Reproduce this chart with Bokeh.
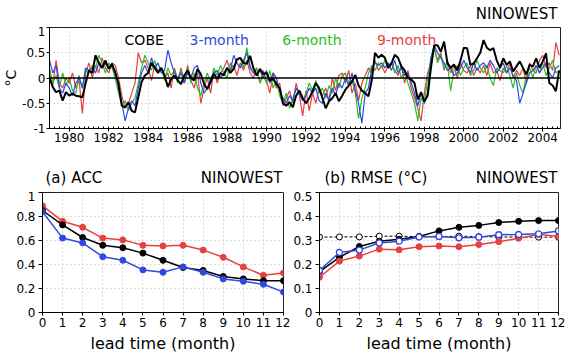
from bokeh.plotting import figure
from bokeh.models import FixedTicker, CustomJSTickFormatter, Span, Range1d
from bokeh.core.properties import value
from bokeh.layouts import column, row
from bokeh.embed import file_html
from bokeh.resources import INLINE

FONT = "DejaVu Sans"

# ---------------- data: top panel (bi-monthly samples, starting Jan 1979) -------------
start_year = 1979
steps_per_year = 6
cobe = [
    0.0, -0.18, -0.28, -0.25, -0.45, -0.28,
    -0.35, -0.31, -0.35, -0.36, -0.38, -0.1,
    0.15, 0.1, 0.45, 0.3, 0.2, 0.35,
    0.18, 0.28, 0.1, -0.12, -0.55, -0.58,
    -0.48, -0.65, -0.68, -0.38, -0.08, 0.05,
    0.1, 0.3, 0.2, 0.1, 0.2, 0.05,
    -0.18, -0.02, 0.05, -0.05, -0.12, 0.05,
    0.15, 0.0, -0.05, 0.18, 0.08, -0.12,
    -0.22, -0.08, 0.08, -0.02, 0.1, 0.05,
    0.2, 0.1, 0.18, 0.37, 0.4, 0.3,
    0.28, 0.44, 0.2, 0.05, 0.18, 0.08,
    0.1, -0.05, -0.02, -0.12, -0.2, -0.5,
    -0.55, -0.48, -0.58, -0.35, -0.25, -0.4,
    -0.5, -0.4, -0.26, -0.1, -0.2, -0.4,
    -0.6, -0.46, -0.4, -0.3, -0.46, -0.35,
    -0.23, -0.15, -0.07, 0.06, -0.15, -0.25,
    -0.3, -0.36, -0.05, 0.5, 0.4, 0.46,
    0.4, 0.2, 0.29, 0.46, 0.4, 0.23,
    0.15, 0.0, -0.03, -0.1, -0.42, -0.28,
    -0.46, -0.35, 0.2, 0.65, 0.65, 0.52,
    0.72, 0.3, 0.2, 0.27, 0.15, 0.35,
    0.6, 0.59, 0.26, 0.29, 0.39, 0.5,
    0.75, 0.6, 0.55, 0.59, 0.35, 0.2,
    0.39, 0.26, 0.33, 0.13, 0.23, 0.33,
    0.2, 0.07, 0.26, 0.23, 0.39, 0.2,
    0.33, 0.49, -0.1, -0.15, -0.26, 0.15,
]
lead3 = [
    0.35, 0.1, 0.25, -0.2, -0.3, -0.1,
    -0.2, -0.35, -0.1, 0.0, -0.2, 0.2,
    0.15, 0.2, 0.1, 0.3, 0.2, 0.3,
    0.2, 0.25, 0.15, -0.2, -0.5, -0.85,
    -0.6, -0.45, -0.55, -0.2, 0.1, 0.25,
    0.1, 0.4, 0.2, 0.3, 0.1, 0.15,
    0.55, 0.3, 0.1, 0.0, 0.1, -0.1,
    0.1, 0.0, 0.2, 0.25, -0.1, -0.3,
    -0.2, 0.0, 0.1, 0.15, 0.0, 0.1,
    0.2, 0.15, 0.45, 0.3, 0.2, 0.35,
    0.5, 0.2, 0.1, 0.05, 0.15, 0.0,
    0.15, -0.1, 0.1, 0.0, -0.25, -0.4,
    -0.5, -0.35, -0.45, -0.2, -0.3, -0.45,
    -0.35, -0.2, -0.3, -0.2, -0.45, -0.5,
    -0.3, -0.45, -0.2, -0.35, -0.1, -0.2,
    0.0, -0.15, 0.1, -0.25, -0.5, -0.9,
    -0.3, -0.2, 0.2, 0.3, 0.25, 0.3,
    0.2, 0.3, 0.15, 0.35, 0.1, 0.2,
    0.05, 0.1, -0.1, -0.3, -0.55, -0.3,
    -0.5, -0.3, 0.4, 0.65, 0.5, 0.4,
    0.3, 0.15, 0.2, 0.05, 0.1, 0.2,
    0.35, 0.2, 0.1, 0.3, 0.15, 0.25,
    0.3, 0.2, 0.35, 0.25, 0.1, 0.2,
    0.3, 0.1, 0.2, 0.05, -0.05, -0.5,
    -0.3, -0.1, 0.1, 0.15, 0.25, 0.1,
    0.2, 0.3, 0.1, 0.0, 0.2, 0.25,
]
lead6 = [
    0.2, -0.1, 0.05, -0.2, 0.1, -0.15,
    0.0, -0.25, -0.3, 0.05, -0.2, 0.15,
    0.1, 0.25, 0.2, 0.45, 0.3, 0.1,
    0.3, 0.2, 0.0, -0.3, -0.55, -0.45,
    -0.65, -0.5, -0.4, -0.1, 0.2, 0.45,
    0.3, 0.15, 0.35, 0.1, 0.2, -0.05,
    0.2, 0.05, 0.15, -0.1, 0.15, 0.0,
    0.2, -0.1, 0.1, -0.2, -0.35, -0.1,
    0.1, -0.1, 0.2, 0.05, 0.25, 0.1,
    0.0, 0.3, 0.2, 0.35, 0.4, 0.2,
    0.6, 0.25, 0.1, 0.2, -0.1, 0.05,
    -0.1, 0.15, -0.2, -0.05, -0.35, -0.5,
    -0.3, -0.6, -0.4, -0.2, -0.3, -0.45,
    -0.3, -0.1, -0.25, -0.05, -0.3, -0.2,
    -0.4, -0.15, -0.3, 0.0, -0.2, 0.05,
    0.1, -0.1, -0.05, -0.3, -0.8, -0.4,
    -0.2, 0.1, 0.25, 0.15, 0.3, 0.2,
    0.35, 0.2, 0.3, 0.1, 0.25, 0.0,
    0.15, -0.1, -0.3, -0.5, -0.85, -0.4,
    -0.5, 0.0, 0.4, 0.6, 0.3, 0.45,
    0.2, 0.3, -0.25, 0.15, 0.25, 0.05,
    0.2, 0.3, 0.05, 0.15, 0.35, 0.2,
    0.1, 0.25, 0.0, -0.15, 0.2, 0.15,
    0.1, 0.25, 0.05, -0.2, 0.1, -0.15,
    -0.3, 0.05, 0.2, 0.0, 0.25, 0.1,
    0.3, 0.05, 0.2, 0.35, 0.1, 0.15,
]
lead9 = [
    0.1, -0.15, 0.35, -0.1, -0.2, 0.0,
    -0.1, 0.1, -0.2, -0.05, -0.7, 0.1,
    0.3, 0.0, 0.25, 0.1, 0.4, 0.2,
    0.1, 0.3, 0.25, 0.0, -0.35, -0.6,
    -0.5, -0.3, -0.1, 0.5, 0.3, 0.35,
    0.2, -0.05, 0.25, 0.15, 0.2, 0.0,
    0.1, -0.2, 0.2, -0.05, 0.2, -0.1,
    0.25, -0.05, -0.2, 0.1, -0.5, -0.2,
    0.0, -0.3, 0.15, -0.1, 0.1, 0.2,
    0.35, 0.15, 0.25, 0.05, 0.3, 0.15,
    0.35, 0.1, 0.0, 0.2, -0.1, 0.15,
    -0.05, -0.3, 0.1, -0.2, -0.1, -0.55,
    -0.4, -0.25, -0.5, -0.1, -0.35, -0.75,
    -0.25, -0.65, -0.3, -0.5, -0.2, -0.35,
    -0.2, -0.45, 0.0, -0.25, 0.05, 0.1,
    -0.1, 0.15, -0.3, -0.1, -0.45, -0.1,
    0.05, 0.2, 0.1, 0.35, 0.15, 0.25,
    0.1, 0.25, 0.3, 0.15, 0.05, 0.25,
    -0.1, 0.15, -0.2, -0.4, -0.6, -0.85,
    -0.3, 0.1, 0.3, 0.6, 0.35, 0.5,
    0.15, 0.35, 0.1, 0.25, 0.0, 0.3,
    0.15, 0.1, 0.25, 0.05, 0.2, 0.1,
    0.25, 0.05, 0.3, 0.1, 0.15, -0.05,
    0.2, 0.1, 0.3, 0.0, 0.15, 0.05,
    0.2, -0.1, 0.3, 0.15, 0.1, 0.35,
    0.45, 0.2, 0.3, 0.15, 0.7, 0.45,
]
year_ticks = list(range(1980, 2005, 2))
series_names = ["COBE", "3-month", "6-month", "9-month"]
region_name = "NINOWEST"

# ---------------- data: lower panels ----------------
lead = list(range(13))
acc_red = [0.89, 0.76, 0.71, 0.62, 0.605, 0.56, 0.555, 0.56, 0.52, 0.46, 0.38, 0.31, 0.33]
acc_black = [0.85, 0.73, 0.625, 0.56, 0.54, 0.495, 0.435, 0.375, 0.35, 0.30, 0.28, 0.265, 0.265]
acc_blue = [0.84, 0.62, 0.58, 0.465, 0.435, 0.355, 0.335, 0.38, 0.335, 0.28, 0.26, 0.235, 0.17]

rmse_clim = [0.314, 0.315, 0.315, 0.318, 0.318, 0.316, 0.316, 0.318, 0.316, 0.315, 0.314, 0.314, 0.314]
rmse_black = [0.17, 0.23, 0.275, 0.297, 0.305, 0.317, 0.34, 0.355, 0.363, 0.375, 0.38, 0.383, 0.383]
rmse_blue = [0.175, 0.25, 0.26, 0.29, 0.297, 0.315, 0.317, 0.311, 0.314, 0.324, 0.325, 0.328, 0.34]
rmse_red = [0.147, 0.214, 0.235, 0.264, 0.261, 0.274, 0.277, 0.274, 0.283, 0.295, 0.309, 0.325, 0.318]

BLACK = "#000000"
BLUE = "#3048e0"
GREEN = "#28c028"
RED = "#e84040"
GRID = "#b8b8b8"

fmt = CustomJSTickFormatter(code="return tick < 0 ? '-' + (-tick).toString() : tick.toString();")


def style(p, tick_size="12px"):
    p.outline_line_color = "#202020"
    p.outline_line_width = 1
    p.background_fill_color = "white"
    p.border_fill_color = "white"
    for ax in (p.xaxis[0], p.yaxis[0]):
        ax.axis_line_color = "#000000"
        ax.major_tick_line_color = "#000000"
        ax.minor_tick_line_color = "#000000"
        ax.major_label_text_font = FONT
        ax.major_label_text_font_size = tick_size
        ax.major_label_text_color = "#000000"
        ax.axis_label_text_font = FONT
        ax.axis_label_text_font_style = "normal"
        ax.axis_label_text_color = "#000000"
    p.grid.grid_line_color = GRID
    p.grid.grid_line_dash = "1 3"
    p.grid.grid_line_width = 1


def strip(width, height, x0, x1, left, right):
    s = figure(width=width, height=height, output_backend="svg", toolbar_location=None,
               x_range=Range1d(x0, x1), y_range=Range1d(0, 1),
               x_axis_location=None, y_axis_location=None,
               min_border_left=left, min_border_right=right, min_border_top=0, min_border_bottom=0)
    s.outline_line_color = None
    s.grid.visible = False
    s.border_fill_color = "white"
    return s


# ---------------- top panel ----------------
years = [start_year + i / steps_per_year for i in range(len(cobe))]
X0, X1 = 1979.0, 2004.9

top_strip = strip(565, 26, X0, X1, 45, 5)
top_strip.text(x=[X1], y=[0.5], text=[region_name], text_font=value(FONT), text_font_size="15px",
               text_align="right", text_baseline="middle", x_offset=-3)

p1 = figure(width=565, height=124, output_backend="svg", toolbar_location=None,
            x_range=Range1d(X0, X1), y_range=Range1d(-1, 1),
            min_border_left=45, min_border_right=5, min_border_top=1, min_border_bottom=22)
style(p1)
p1.xaxis.ticker = FixedTicker(ticks=year_ticks,
                              minor_ticks=[1979 + q / 4 for q in range(4 * 26 + 1)])
p1.yaxis.ticker = FixedTicker(ticks=[-1, -0.5, 0, 0.5, 1], minor_ticks=[])
p1.yaxis.formatter = fmt
p1.xaxis.major_tick_out = 3
p1.xaxis.major_tick_in = 0
p1.xaxis.minor_tick_out = 0
p1.xaxis.minor_tick_in = 2
p1.xaxis.major_label_standoff = 1
p1.yaxis.major_tick_out = 3
p1.yaxis.major_tick_in = 0
p1.yaxis.major_label_standoff = 1
p1.yaxis.axis_label = "°C"
p1.yaxis.axis_label_text_font_size = "14px"
p1.yaxis.axis_label_standoff = 0

p1.line(years, lead9, color=RED, line_width=1.2)
p1.line(years, lead6, color=GREEN, line_width=1.2)
p1.line(years, lead3, color=BLUE, line_width=1.2)
p1.add_layout(Span(location=0, dimension="width", line_color="#000000", line_width=1.3))
p1.line(years, cobe, color=BLACK, line_width=2)

p1.text(x=[1983.8, 1987.6, 1992.3, 1997.1], y=[0.76] * 4, text=series_names,
        text_color=[BLACK, BLUE, GREEN, RED], text_font=value(FONT), text_font_size="14px",
        text_align="center", text_baseline="middle")


# ---------------- bottom panels ----------------
def lower(width, left, right, yend, yticks):
    p = figure(width=width, height=167, output_backend="svg", toolbar_location=None,
               x_range=Range1d(0, 12), y_range=Range1d(0, yend),
               min_border_left=left, min_border_right=right, min_border_top=1, min_border_bottom=46)
    style(p)
    p.xaxis.ticker = FixedTicker(ticks=lead, minor_ticks=[])
    p.yaxis.ticker = FixedTicker(ticks=yticks, minor_ticks=[])
    p.yaxis.formatter = fmt
    p.xaxis.major_tick_out = 3
    p.xaxis.major_tick_in = 0
    p.xaxis.major_label_standoff = 2
    p.yaxis.major_tick_out = 4
    p.yaxis.major_tick_in = 0
    p.yaxis.major_label_standoff = 3
    p.xaxis.axis_label = "lead time (month)"
    p.xaxis.axis_label_text_font_size = "16px"
    p.xaxis.axis_label_standoff = 4
    return p


def lower_strip(width, left, right, title_text, dx):
    s = strip(width, 41, 0, 12, left, right)
    s.text(x=[0, 12], y=[0.32, 0.32], text=[title_text, region_name], text_font=value(FONT),
           text_font_size="15px", text_align=["left", "right"], text_baseline="middle",
           x_offset=[dx, -1])
    return s


sa = lower_strip(290, 42, 7, "(a) ACC", 3)
pa = lower(290, 42, 7, 1.0, [0, 0.2, 0.4, 0.6, 0.8, 1.0])
for vals, col in ((acc_red, RED), (acc_black, BLACK), (acc_blue, BLUE)):
    pa.line(lead, vals, color=col, line_width=1.5)
    pa.scatter(lead, vals, size=6, fill_color=col, line_color=col)

sb = lower_strip(275, 27, 7, "(b) RMSE (°C)", 5)
pb = lower(275, 27, 7, 0.5, [0, 0.1, 0.2, 0.3, 0.4, 0.5])
pb.line(lead, rmse_clim, color=BLACK, line_width=1, line_dash="3 2")
pb.scatter(lead, rmse_clim, size=6, fill_color="white", line_color=BLACK)
pb.line(lead, rmse_black, color=BLACK, line_width=1.5)
pb.scatter(lead, rmse_black, size=6, fill_color=BLACK, line_color=BLACK)
pb.line(lead, rmse_red, color=RED, line_width=1.5)
pb.scatter(lead, rmse_red, size=6, fill_color=RED, line_color=RED)
pb.line(lead, rmse_blue, color=BLUE, line_width=1.5)
pb.scatter(lead, rmse_blue, size=6, fill_color="white", line_color=BLUE, line_width=1.3)

layout = column(top_strip, p1,
                row(column(sa, pa, spacing=0), column(sb, pb, spacing=0), spacing=0),
                spacing=0)
open("out.html", "w").write(file_html(layout, INLINE))
